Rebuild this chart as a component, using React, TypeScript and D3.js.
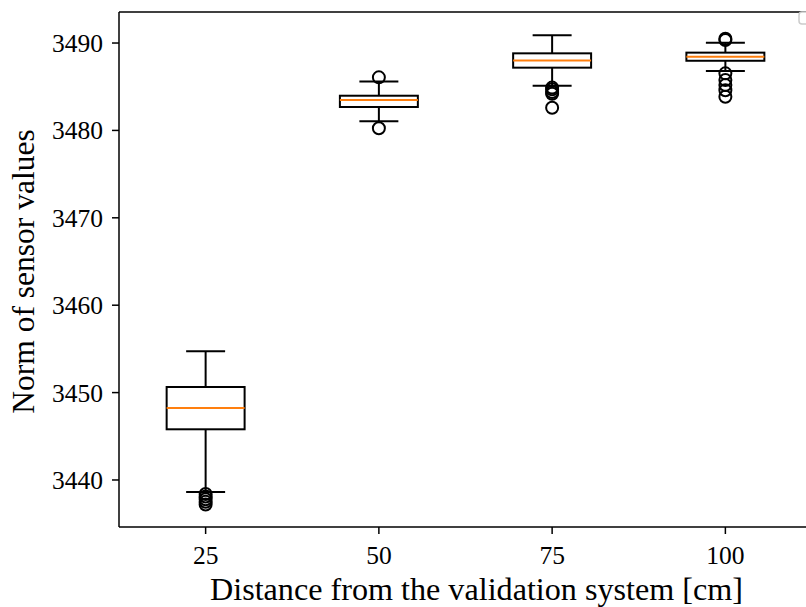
import React from "react";
import * as d3 from "d3";

const categories = ["25", "50", "75", "100"];
const whiskerLow = [3438.63, 3481.04, 3485.12, 3486.8];
const q1 = [3445.8, 3482.68, 3487.18, 3487.97];
const medians = [3448.24, 3483.48, 3488.0, 3488.43];
const q3 = [3450.64, 3483.97, 3488.82, 3488.9];
const whiskerHigh = [3454.73, 3485.6, 3490.88, 3490.04];
const fliers = [
  [3438.4, 3438.1, 3437.8, 3437.5, 3437.2],
  [3486.07, 3480.24],
  [3484.9, 3484.7, 3484.4, 3484.2, 3482.6],
  [3490.5, 3490.35, 3486.53, 3485.77, 3485.2, 3484.6, 3483.86],
];
const yTicks = [3440, 3450, 3460, 3470, 3480, 3490];
const xLabel = "Distance from the validation system [cm]";
const yLabel = "Norm of sensor values";

const W = 806;
const H = 607;
const left = 119;
const top = 12;
const bottom = 527;
const rightEdge = 812;

export default function App() {
  const x = d3.scaleLinear().domain([0.5, 4.5]).range([left, rightEdge]);
  const y = d3.scaleLinear().domain([3434.62, 3493.55]).range([bottom, top]);
  const boxW = 0.45;
  const font = "'Liberation Serif', 'Times New Roman', serif";

  return (
    <div style={{ position: "absolute", left: 0, top: 0 }}>
      <svg width={W} height={H} style={{ display: "block", background: "#fff" }}>
        <rect x={0} y={0} width={W} height={H} fill="#fff" />
        {categories.map((c, i) => {
          const p = i + 1;
          const x0 = x(p - boxW / 2);
          const x1 = x(p + boxW / 2);
          const cx = x(p);
          const c0 = x(p - boxW / 4);
          const c1 = x(p + boxW / 4);
          return (
            <g key={c} stroke="#000" strokeWidth={2} fill="none">
              <line x1={cx} x2={cx} y1={y(q1[i])} y2={y(whiskerLow[i])} />
              <line x1={cx} x2={cx} y1={y(q3[i])} y2={y(whiskerHigh[i])} />
              <line x1={c0} x2={c1} y1={y(whiskerLow[i])} y2={y(whiskerLow[i])} />
              <line x1={c0} x2={c1} y1={y(whiskerHigh[i])} y2={y(whiskerHigh[i])} />
              <rect x={x0} y={y(q3[i])} width={x1 - x0} height={y(q1[i]) - y(q3[i])} />
              <line x1={x0} x2={x1} y1={y(medians[i])} y2={y(medians[i])} stroke="#ff7f0e" />
              {fliers[i].map((f, j) => (
                <circle key={j} cx={cx} cy={y(f)} r={6} />
              ))}
            </g>
          );
        })}
        {/* spines */}
        <g stroke="#000" strokeWidth={1.5} fill="none">
          <line x1={left} x2={left} y1={top} y2={bottom} />
          <line x1={left} x2={W} y1={bottom} y2={bottom} />
          <line x1={left} x2={W} y1={top} y2={top} />
        </g>
        {/* legend corner */}
        <rect x={799} y={12} width={20} height={12} rx={3} fill="#fff" stroke="#ccc" strokeWidth={1.5} />
        {/* y ticks */}
        {yTicks.map((t) => (
          <g key={t}>
            <line x1={left - 7} x2={left} y1={y(t)} y2={y(t)} stroke="#000" strokeWidth={1.5} />
            <text x={left - 16} y={y(t)} dy="0.35em" textAnchor="end" fontFamily={font} fontSize={25.5} fill="#000">
              {t}
            </text>
          </g>
        ))}
        {/* x ticks */}
        {categories.map((c, i) => (
          <g key={c}>
            <line x1={x(i + 1)} x2={x(i + 1)} y1={bottom} y2={bottom + 7} stroke="#000" strokeWidth={1.5} />
            <text x={x(i + 1)} y={bottom + 37} textAnchor="middle" fontFamily={font} fontSize={25.5} fill="#000">
              {c}
            </text>
          </g>
        ))}
        <text
          x={210}
          y={600}
          textLength={533}
          lengthAdjust="spacingAndGlyphs"
          fontFamily={font}
          fontSize={32}
          fill="#000"
        >
          {xLabel}
        </text>
        <text
          transform={`translate(34, ${(top + bottom) / 2 + 2}) rotate(-90)`}
          textAnchor="middle"
          fontFamily={font}
          fontSize={31.5}
          fill="#000"
        >
          {yLabel}
        </text>
      </svg>
    </div>
  );
}
